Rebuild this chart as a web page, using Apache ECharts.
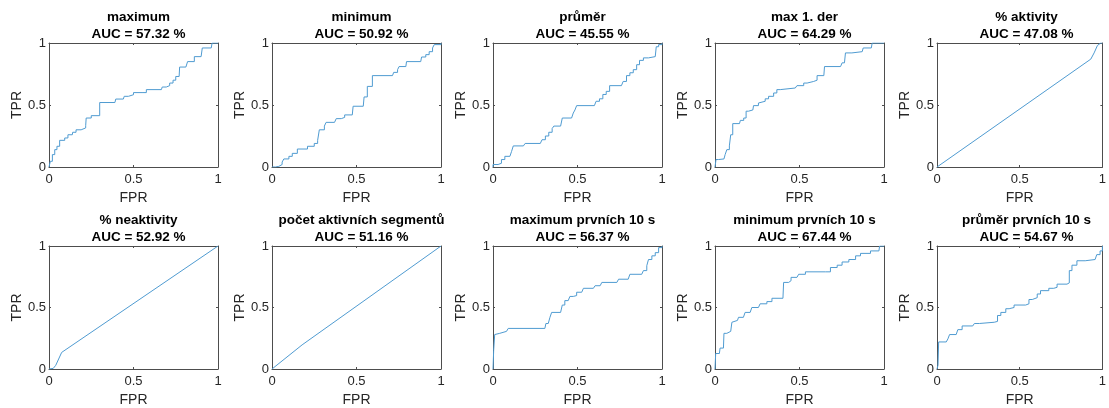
<!DOCTYPE html>
<html>
<head>
<meta charset="utf-8">
<script src="https://cdn.jsdelivr.net/npm/echarts@6/dist/echarts.min.js"></script>
<style>html,body{margin:0;padding:0;background:#fff}#c{width:1109px;height:408px}</style>
</head>
<body>
<div id="c"></div>
<script>
// ---- data ----
const titles = ['maximum','minimum','průměr','max 1. der','% aktivity',
  '% neaktivity','počet aktivních segmentů','maximum prvních 10 s','minimum prvních 10 s','průměr prvních 10 s'];
const aucValues = ['57.32','50.92','45.55','64.29','47.08','52.92','51.16','56.37','67.44','54.67'];
const tickValues = [0, 0.5, 1];
const stepped = [true,true,true,true,false,false,false,true,true,true];

const fpr1 = [0,0.008,0.02,0.034,0.047,0.063,0.093,0.093,0.112,0.138,0.14,0.16,0.19,0.217,0.22,0.25,0.30,0.30,0.39,0.395,0.44,0.445,0.47,0.50,0.556,0.576,0.665,0.67,0.694,0.714,0.734,0.75,0.77,0.773,0.81,0.82,0.86,0.86,0.90,0.907,0.96,0.965,1];
const tpr1 = [0,0.046,0.10,0.14,0.167,0.215,0.215,0.234,0.26,0.26,0.28,0.30,0.315,0.333,0.395,0.414,0.414,0.52,0.52,0.548,0.556,0.57,0.583,0.60,0.60,0.624,0.624,0.645,0.656,0.677,0.70,0.73,0.745,0.806,0.806,0.85,0.85,0.89,0.89,0.96,0.96,1,1];

const fpr2 = [0,0.02,0.04,0.06,0.07,0.10,0.12,0.15,0.21,0.25,0.27,0.28,0.31,0.32,0.37,0.38,0.41,0.43,0.475,0.48,0.54,0.545,0.564,0.564,0.594,0.594,0.713,0.72,0.743,0.752,0.792,0.796,0.88,0.885,0.91,0.93,0.95,0.96,1];
const tpr2 = [0,0.005,0.02,0.04,0.065,0.086,0.11,0.145,0.167,0.19,0.215,0.30,0.33,0.36,0.37,0.39,0.40,0.42,0.435,0.49,0.49,0.565,0.565,0.65,0.65,0.737,0.737,0.763,0.785,0.81,0.81,0.85,0.85,0.887,0.906,0.93,0.96,0.987,1];

const fpr3 = [0,0,0.03,0.05,0.07,0.10,0.11,0.12,0.18,0.19,0.28,0.29,0.31,0.33,0.35,0.36,0.40,0.41,0.465,0.475,0.485,0.495,0.60,0.61,0.63,0.65,0.67,0.69,0.76,0.77,0.79,0.81,0.83,0.85,0.867,0.89,0.92,0.96,0.966,0.98,1];
const tpr3 = [0,0.02,0.03,0.06,0.086,0.086,0.126,0.17,0.17,0.19,0.19,0.22,0.25,0.28,0.31,0.33,0.33,0.395,0.395,0.435,0.46,0.495,0.495,0.53,0.55,0.585,0.61,0.656,0.656,0.69,0.737,0.76,0.785,0.825,0.86,0.88,0.89,0.906,0.97,0.987,1];

const fpr4 = [0,0.006,0.02,0.053,0.06,0.07,0.085,0.093,0.105,0.145,0.15,0.17,0.184,0.198,0.224,0.228,0.257,0.267,0.297,0.317,0.347,0.366,0.386,0.475,0.485,0.525,0.545,0.584,0.604,0.644,0.648,0.743,0.752,0.766,0.772,0.81,0.871,0.877,0.925,0.93,1];
const tpr4 = [0,0.06,0.065,0.065,0.10,0.14,0.17,0.26,0.35,0.35,0.376,0.395,0.45,0.46,0.46,0.495,0.516,0.53,0.55,0.57,0.597,0.624,0.637,0.637,0.656,0.677,0.69,0.70,0.737,0.737,0.81,0.81,0.84,0.84,0.92,0.93,0.94,0.96,0.96,1,1];

const fpr5 = [0,0.93,0.95,0.97,0.99,1];
const tpr5 = [0,0.87,0.92,0.98,1,1];

const fpr6 = [0,0.025,0.04,0.075,1];
const tpr6 = [0,0.005,0.03,0.135,1];

const fpr7 = [0,0.178,1];
const tpr7 = [0,0.196,1];

const fpr8 = [0,0.004,0.01,0.016,0.04,0.08,0.09,0.307,0.313,0.327,0.337,0.347,0.40,0.41,0.425,0.445,0.455,0.475,0.495,0.525,0.535,0.594,0.604,0.634,0.644,0.733,0.743,0.80,0.81,0.88,0.89,0.91,0.92,0.94,0.96,0.98,1];
const tpr8 = [0,0.153,0.28,0.29,0.306,0.306,0.33,0.33,0.37,0.38,0.42,0.46,0.46,0.52,0.556,0.57,0.59,0.597,0.624,0.637,0.656,0.656,0.677,0.683,0.704,0.71,0.73,0.737,0.77,0.77,0.80,0.84,0.89,0.92,0.946,0.987,1];

const fpr9 = [0,0.004,0.026,0.03,0.05,0.053,0.07,0.093,0.10,0.105,0.133,0.139,0.168,0.178,0.208,0.218,0.257,0.267,0.307,0.337,0.402,0.406,0.436,0.45,0.485,0.495,0.535,0.653,0.683,0.723,0.752,0.792,0.832,0.861,0.92,0.97,0.974,1];
const tpr9 = [0,0.126,0.126,0.17,0.17,0.29,0.306,0.306,0.38,0.395,0.395,0.42,0.42,0.46,0.476,0.50,0.50,0.53,0.548,0.575,0.575,0.704,0.718,0.745,0.745,0.77,0.79,0.79,0.825,0.844,0.87,0.89,0.92,0.94,0.96,0.973,1,1];

const fpr10 = [0,0.006,0.01,0.056,0.066,0.076,0.116,0.126,0.152,0.216,0.226,0.256,0.346,0.366,0.386,0.416,0.436,0.466,0.536,0.556,0.576,0.606,0.626,0.676,0.706,0.726,0.786,0.80,0.816,0.846,0.896,0.956,0.966,0.986,1];
const tpr10 = [0,0.03,0.22,0.22,0.245,0.28,0.29,0.32,0.35,0.36,0.37,0.38,0.387,0.435,0.46,0.49,0.50,0.52,0.53,0.565,0.58,0.61,0.637,0.656,0.664,0.69,0.70,0.80,0.844,0.88,0.89,0.906,0.93,0.96,1];

const fprList = [fpr1,fpr2,fpr3,fpr4,fpr5,fpr6,fpr7,fpr8,fpr9,fpr10];
const tprList = [tpr1,tpr2,tpr3,tpr4,tpr5,tpr6,tpr7,tpr8,tpr9,tpr10];

// ---- layout ----
const colLeft = [49, 272, 493, 715, 937];
const rowTop = [43, 246];
const plotW = 169, plotH = 124;
const font = '"Liberation Sans", Arial, sans-serif';
const axisColor = '#4d4d4d';
const lineColor = '#4f9bd1';

const grids = [], xAxes = [], yAxes = [], series = [], titleItems = [];
for (let i = 0; i < 10; i++) {
  const r = Math.floor(i / 5), c = i % 5;
  grids.push({left: colLeft[c], top: rowTop[r], width: plotW, height: plotH, containLabel: false});
  const axBase = {
    type: 'value', min: 0, max: 1, interval: 0.5, gridIndex: i,
    axisLine: {show: true, onZero: false, lineStyle: {color: axisColor, width: 1}},
    axisTick: {show: true, inside: true, length: 2, lineStyle: {color: axisColor}},
    splitLine: {show: false}
  };
  const labelStyle = {fontFamily: font, fontSize: 13, color: '#262626',
    customValues: tickValues, formatter: v => String(v)};
  xAxes.push(Object.assign({}, axBase, {position: 'bottom',
    axisLabel: Object.assign({margin: 6}, labelStyle),
    name: 'FPR', nameLocation: 'middle', nameGap: 24,
    nameTextStyle: {fontFamily: font, fontSize: 14, color: '#262626'}}));
  xAxes.push(Object.assign({}, axBase, {position: 'top', axisLabel: {show: false}}));
  yAxes.push(Object.assign({}, axBase, {position: 'left',
    axisLabel: Object.assign({margin: 3}, labelStyle),
    name: 'TPR', nameLocation: 'middle', nameGap: 24, nameRotate: 90,
    nameTextStyle: {fontFamily: font, fontSize: 14, color: '#262626'}}));
  yAxes.push(Object.assign({}, axBase, {position: 'right', axisLabel: {show: false}}));
  series.push({
    type: 'line', xAxisIndex: 2 * i, yAxisIndex: 2 * i,
    data: fprList[i].map((x, k) => [x, tprList[i][k]]),
    step: stepped[i] ? 'end' : false,
    showSymbol: false, symbol: 'none', silent: true, animation: false,
    lineStyle: {color: lineColor, width: 1}
  });
  titleItems.push({
    text: titles[i] + '\nAUC = ' + aucValues[i] + ' %',
    left: colLeft[c] + plotW / 2, top: rowTop[r] - 39, textAlign: 'center',
    textStyle: {fontFamily: font, fontSize: 13.5, fontWeight: 'bold', color: '#000', lineHeight: 17}
  });
}

const chart = echarts.init(document.getElementById('c'), null, {renderer: 'canvas'});
chart.setOption({
  animation: false,
  backgroundColor: '#fff',
  title: titleItems,
  grid: grids, xAxis: xAxes, yAxis: yAxes, series: series
});
</script>
</body>
</html>
